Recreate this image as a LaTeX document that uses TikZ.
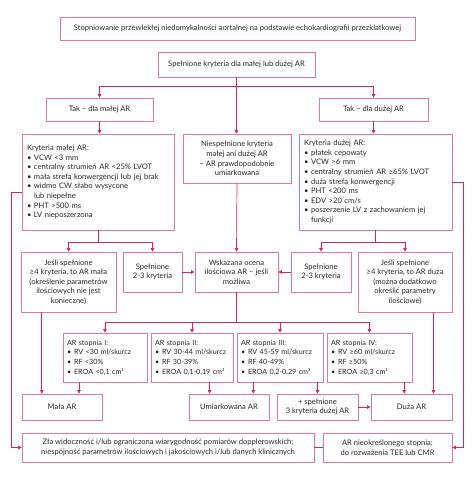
\documentclass[tikz,border=0pt]{standalone}
\usepackage{fontspec}
\setmainfont{Lato}
\usetikzlibrary{positioning,calc,arrows.meta}
\definecolor{linec}{RGB}{214,40,95}
\definecolor{boxc}{RGB}{226,120,155}
\definecolor{txtc}{RGB}{40,40,40}
\newcommand{\bl}{\makebox[7pt][l]{\textbullet}}

\begin{document}
\begin{tikzpicture}[x=1pt, y=-1pt, >={Triangle[length=3.5pt,width=3.5pt]},
	box/.style={draw=boxc, line width=0.7pt, text=txtc, font=\fontsize{7.6}{9.6}\selectfont, align=center, inner sep=2pt},
	wh/.style 2 args={minimum width=#1pt, minimum height=#2pt},
	list/.style={box, align=left, inner xsep=5pt},
	grade/.style={list, inner xsep=4pt, minimum height=49pt, font=\fontsize{7.2}{9.6}\selectfont},
	arr/.style={->, draw=linec, line width=0.7pt},
	ln/.style={draw=linec, line width=0.7pt}]
		\useasboundingbox (0,0) rectangle (474,478);
		
		% top
		\node[box, wh={355}{23}] (title) at (237.5,28.5) {Stopniowanie przewlekłej niedomykalności aortalnej na podstawie echokardiografii przezklatkowej};
		\node[box, wh={157}{25}] (spel) at (236.5,64.5) {Spełnione kryteria dla małej lub dużej AR};
		\node[box, wh={107}{23}] (takm) at (99.5,109.5) {Tak – dla małej AR};
		\node[box, wh={109}{23}] (takd) at (373.5,109.5) {Tak – dla dużej AR};
		
		% criteria
		\node[list, text width=142pt, minimum height=96pt] (krym) at (98,182) {Kryteria małej AR:\\
			\bl VCW <3 mm\\
			\bl centralny strumień AR <25\% LVOT\\
			\bl mała strefa konwergencji lub jej brak\\
			\bl widmo CW słabo wysycone\\
			\hspace*{7pt}lub niepełne\\
			\bl PHT >500 ms\\
			\bl LV nieposzerzona};
		\node[box, wh={108}{49}] (nies) at (237,158.5) {Niespełnione kryteria\\małej ani dużej AR\\– AR prawdopodobnie\\umiarkowana};
		\node[list, text width=143pt, minimum height=96pt] (kryd) at (375.5,182) {Kryteria dużej AR:\\
			\bl płatek cepowaty\\
			\bl VCW >6 mm\\
			\bl centralny strumień AR ≥65\% LVOT\\
			\bl duża strefa konwergencji\\
			\bl PHT <200 ms\\
			\bl EDV >20 cm/s\\
			\bl poszerzenie LV z zachowaniem jej\\
			\hspace*{7pt}funkcji};
		
		% middle row
		\node[box, wh={95}{60}] (jesm) at (68.5,282) {Jeśli spełnione\\≥4 kryteria, to AR mała\\(określenie parametrów\\ilościowych nie jest\\konieczne)};
		\node[box, wh={59}{40}] (spm) at (152.5,272) {Spełnione\\2-3 kryteria};
		\node[box, wh={83}{40}] (wsk) at (236.5,272) {Wskazana ocena\\ilościowa AR – jeśli\\możliwa};
		\node[box, wh={60}{40}] (spd) at (321,272) {Spełnione\\2-3 kryteria};
		\node[box, wh={94}{60}] (jesd) at (405,282) {Jeśli spełnione\\≥4 kryteria, to AR duża\\(można dodatkowo\\określić parametry\\ilościowe)};
		
		% grades
		\node[grade, text width=76pt] (st1) at (105,357.5) {AR stopnia I:\\\bl RV <30 ml/skurcz\\\bl RF <30\%\\\bl EROA <0,1 cm²};
		\node[grade, text width=74pt] (st2) at (192,357.5) {AR stopnia II:\\\bl RV 30-44 ml/skurcz\\\bl RF 30-39\%\\\bl EROA 0,1-0,19 cm²};
		\node[grade, text width=78pt] (st3) at (280,357.5) {AR stopnia III:\\\bl RV 45-59 ml/skurcz\\\bl RF 40-49\%\\\bl EROA 0,2-0,29 cm²};
		\node[grade, text width=77pt] (st4) at (369.5,357.5) {AR stopnia IV:\\\bl RV ≥60 ml/skurcz\\\bl RF ≥50\%\\\bl EROA ≥0,3 cm²};
		
		% results
		\node[box, wh={80}{26}] (mala) at (62,407) {Mała AR};
		\node[box, wh={80}{26}] (umi) at (229,407) {Umiarkowana AR};
		\node[box, wh={81}{26}] (plus) at (317.5,407) {+ spełnione\\3 kryteria dużej AR};
		\node[box, wh={81}{26}] (duza) at (411.5,407) {Duża AR};
		\node[box, wh={292}{29}] (zla) at (168,447.5) {Zła widoczność i/lub ograniczona wiarygodność pomiarów dopplerowskich;\\niespójność parametrów ilościowych i jakościowych i/lub danych klinicznych};
		\node[box, wh={129}{29}] (nieok) at (387.5,447.5) {AR nieokreślonego stopnia;\\do rozważenia TEE lub CMR};
		
		% connectors
		\draw[ln] (spel.south) -- ++(0,9.5) coordinate (s0);
		\draw[arr] (s0) -| (takm.north);
		\draw[arr] (s0) -| (takd.north);
		\draw[arr] (s0) -- (s0 |- nies.north);
		\draw[arr] (takm.south) -- (takm.south |- krym.north);
		\draw[arr] (takd.south) -- (takd.south |- kryd.north);
		
		\draw[ln] (krym.south) -- ++(0,12) coordinate (s1);
		\draw[arr] (s1) -| (jesm.north);
		\draw[arr] (s1) -| (spm.north);
		\draw[ln] (kryd.south) -- ++(0,12) coordinate (s2);
		\draw[arr] (s2) -| (spd.north);
		\draw[arr] (s2) -| (jesd.north);
		\draw[arr] (nies.south) -- (wsk.north);
		\draw[arr] (spm) -- (wsk);
		\draw[arr] (spd) -- (wsk);
		
		\draw[ln] (wsk.south) -- ++(0,30) coordinate (s3);
		\foreach \n in {st1,st2,st3,st4}
			\draw[arr] (s3) -| (\n.north);
		
		\coordinate (m1) at ($(mala.north west)!0.25!(mala.north east)$);
		\coordinate (m2) at ($(mala.north west)!0.71!(mala.north east)$);
		\coordinate (u1) at ($(umi.north west)!0.26!(umi.north east)$);
		\coordinate (u2) at ($(umi.north west)!0.8!(umi.north east)$);
		\coordinate (d1) at ($(duza.north west)!0.41!(duza.north east)$);
		\coordinate (d2) at ($(duza.north west)!0.77!(duza.north east)$);
		\draw[arr] (jesm.south -| m1) -- (m1);
		\draw[arr] (st1.south -| m2) -- (m2);
		\draw[arr] (st2.south -| u1) -- (u1);
		\draw[arr] (st3.south -| u2) -- (u2);
		\draw[arr] (st3.south -| plus.north) -- (plus.north);
		\draw[arr] (st4.south -| d1) -- (d1);
		\draw[arr] (jesd.south -| d2) -- (d2);
		\draw[arr] (plus) -- (duza);
		
		\draw[arr] ([yshift=-10pt]krym.west) -- ++(-10,0) |- (zla.west);
		\draw[arr] (kryd.east) -- ++(11,0) |- (nieok.east);
		\draw[ln] (zla) -- (nieok);
	\end{tikzpicture}
\end{document}
